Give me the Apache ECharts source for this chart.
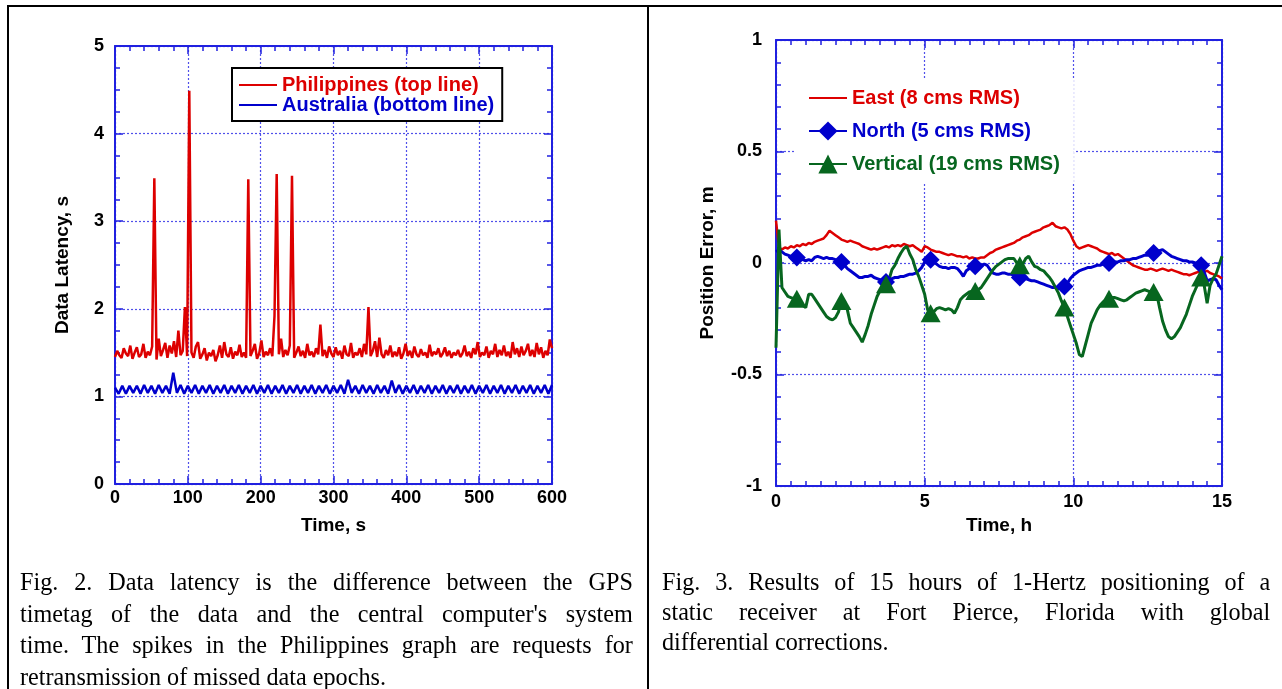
<!DOCTYPE html>
<html><head><meta charset="utf-8">
<script src="https://cdn.jsdelivr.net/npm/echarts@6/dist/echarts.min.js"></script>
<style>
html,body{margin:0;padding:0;background:#fff;width:1282px;height:689px;overflow:hidden;}
#chart{position:absolute;left:0;top:0;width:1282px;height:689px;}
.rule{position:absolute;background:#000;}
.cap{position:absolute;font-family:"Liberation Serif","Times New Roman",serif;font-size:26px;color:#000;transform:scaleX(0.93);transform-origin:0 0;}
.cap div{height:31.5px;line-height:31.5px;text-align:justify;text-align-last:justify;white-space:nowrap;}
.cap div.last{text-align-last:left;}
#capR div{height:30px;line-height:30px;}
</style></head>
<body>
<div id="chart"></div>
<div class="rule" style="left:7px;top:5px;width:1275px;height:2px;"></div>
<div class="rule" style="left:7px;top:5px;width:2px;height:684px;"></div>
<div class="rule" style="left:647px;top:5px;width:2px;height:684px;"></div>
<div class="cap" id="capL" style="left:20px;top:566px;width:659px;"></div>
<div class="cap" id="capR" style="left:662px;top:567px;width:654px;"></div>
<script>
// ---------- Fig. 2 data (latency, s) ----------
const latXTicks = [0, 100, 200, 300, 400, 500, 600];
const latYTicks = [0, 1, 2, 3, 4, 5];
const PH_STEP = 3;   // seconds between Philippines samples
const phV = [
1.45,1.52,1.47,1.44,1.55,1.49,1.46,1.58,1.43,1.50,
1.56,1.45,1.48,1.60,1.44,1.51,1.47,1.57,3.49,1.42,
1.66,1.46,1.53,1.61,1.44,1.58,1.49,1.63,1.45,1.75,
1.47,1.52,2.02,1.46,4.49,1.50,1.44,1.57,1.62,1.43,
1.48,1.55,1.41,1.50,1.46,1.53,1.40,1.47,1.58,1.44,
1.62,1.48,1.45,1.56,1.43,1.51,1.47,1.59,1.45,1.50,
1.44,3.48,1.46,1.52,1.60,1.43,1.49,1.64,1.45,1.51,
1.47,1.55,1.46,1.92,3.54,1.48,1.66,1.45,1.53,1.47,
1.58,3.52,1.44,1.50,1.57,1.46,1.52,1.44,1.60,1.47,
1.51,1.45,1.55,1.48,1.82,1.46,1.53,1.44,1.57,1.49,
1.45,1.56,1.47,1.52,1.43,1.58,1.48,1.46,1.61,1.44,
1.50,1.47,1.55,1.45,1.60,1.48,2.02,1.46,1.52,1.63,
1.45,1.67,1.48,1.44,1.53,1.47,1.58,1.45,1.51,1.46,
1.56,1.43,1.49,1.60,1.46,1.52,1.44,1.57,1.48,1.45,
1.54,1.47,1.50,1.44,1.59,1.46,1.51,1.48,1.55,1.45,
1.49,1.56,1.46,1.52,1.44,1.50,1.47,1.53,1.45,1.49,
1.58,1.46,1.51,1.44,1.55,1.48,1.62,1.45,1.50,1.47,
1.57,1.44,1.52,1.48,1.60,1.45,1.53,1.47,1.58,1.46,
1.51,1.44,1.62,1.48,1.55,1.45,1.57,1.47,1.52,1.60,
1.46,1.53,1.45,1.61,1.48,1.56,1.44,1.52,1.47,1.65,
1.55];
const AU_STEP = 5;   // seconds between Australia samples
const auV = [
1.10,1.03,1.12,1.03,1.12,1.04,1.12,1.03,1.13,1.04,
1.12,1.03,1.13,1.04,1.12,1.03,1.27,1.04,1.13,1.03,
1.12,1.04,1.13,1.03,1.12,1.04,1.13,1.03,1.12,1.04,
1.13,1.03,1.12,1.04,1.13,1.03,1.12,1.04,1.13,1.03,
1.12,1.04,1.13,1.03,1.12,1.04,1.13,1.03,1.12,1.04,
1.13,1.03,1.12,1.04,1.13,1.03,1.12,1.04,1.13,1.03,
1.12,1.04,1.13,1.03,1.19,1.04,1.12,1.03,1.13,1.04,
1.12,1.03,1.13,1.04,1.12,1.03,1.18,1.04,1.13,1.03,
1.12,1.04,1.13,1.03,1.12,1.04,1.13,1.03,1.12,1.04,
1.13,1.03,1.12,1.04,1.13,1.03,1.12,1.04,1.13,1.03,
1.12,1.04,1.13,1.03,1.12,1.04,1.13,1.03,1.12,1.04,
1.13,1.03,1.12,1.04,1.13,1.03,1.12,1.04,1.13,1.03,
1.13];

// ---------- Fig. 3 data (position error, m) ----------
const posXTicks = [0, 5, 10, 15];
const posYTicks = [-1, -0.5, 0, 0.5, 1];
const POS_STEP = 0.1; // hours between samples
const eastV = [
0.19,0.07,0.06,0.07,0.065,0.075,0.07,0.08,0.075,0.085,
0.08,0.09,0.085,0.095,0.10,0.105,0.11,0.125,0.145,0.135,
0.125,0.115,0.105,0.10,0.095,0.10,0.095,0.09,0.085,0.075,
0.07,0.065,0.06,0.065,0.06,0.065,0.07,0.075,0.07,0.08,
0.075,0.08,0.075,0.085,0.08,0.075,0.08,0.07,0.06,0.05,
0.075,0.07,0.06,0.055,0.05,0.05,0.045,0.04,0.035,0.04,
0.035,0.03,0.03,0.025,0.03,0.02,0.025,0.02,0.02,0.025,
0.025,0.035,0.045,0.05,0.06,0.065,0.07,0.075,0.08,0.085,
0.09,0.10,0.105,0.115,0.12,0.125,0.135,0.14,0.145,0.15,
0.16,0.165,0.17,0.18,0.165,0.16,0.155,0.16,0.15,0.13,
0.10,0.075,0.065,0.07,0.075,0.08,0.075,0.07,0.065,0.055,
0.05,0.045,0.04,0.045,0.035,0.04,0.03,0.02,0.01,0.0,
-0.01,-0.015,-0.02,-0.025,-0.03,-0.03,-0.025,-0.03,-0.035,-0.03,
-0.025,-0.03,-0.035,-0.03,-0.035,-0.04,-0.045,-0.05,-0.05,-0.055,
-0.05,-0.045,-0.04,-0.045,-0.04,-0.035,-0.045,-0.05,-0.055,-0.06,
-0.07];
const northV = [
0.05,0.06,0.05,0.04,0.035,0.03,0.025,0.025,0.02,0.015,
0.01,0.015,0.01,0.025,0.03,0.025,0.02,0.025,0.02,0.02,
0.015,0.01,0.005,-0.01,-0.025,-0.035,-0.045,-0.055,-0.065,-0.065,
-0.06,-0.06,-0.055,-0.065,-0.07,-0.075,-0.08,-0.085,-0.08,-0.07,
-0.065,-0.065,-0.06,-0.06,-0.055,-0.05,-0.05,-0.045,-0.035,-0.02,
0.005,0.01,0.015,0.005,-0.005,-0.015,-0.02,-0.02,-0.025,-0.02,
-0.02,-0.025,-0.04,-0.06,-0.035,-0.025,-0.02,-0.015,-0.01,-0.01,
-0.005,-0.01,-0.03,-0.045,-0.05,-0.05,-0.045,-0.045,-0.05,-0.05,
-0.055,-0.06,-0.065,-0.07,-0.07,-0.075,-0.08,-0.08,-0.085,-0.09,
-0.095,-0.1,-0.105,-0.11,-0.11,-0.115,-0.11,-0.105,-0.09,-0.07,
-0.055,-0.045,-0.035,-0.03,-0.025,-0.02,-0.02,-0.015,-0.01,-0.01,
-0.005,-0.005,0.0,0.0,0.005,0.005,0.01,0.01,0.015,0.015,
0.02,0.02,0.025,0.03,0.035,0.035,0.04,0.045,0.05,0.055,
0.06,0.05,0.04,0.03,0.025,0.02,0.015,0.01,0.01,0.005,
0.005,0.0,0.0,-0.01,-0.04,-0.08,-0.075,-0.07,-0.075,-0.1,
-0.12];
const vertV = [
-0.38,0.15,-0.11,-0.13,-0.15,-0.155,-0.16,-0.16,-0.17,-0.19,
-0.2,-0.14,-0.14,-0.16,-0.18,-0.2,-0.22,-0.24,-0.25,-0.255,
-0.245,-0.22,-0.17,-0.17,-0.21,-0.27,-0.29,-0.31,-0.33,-0.355,
-0.32,-0.28,-0.23,-0.19,-0.15,-0.125,-0.11,-0.095,-0.075,-0.03,
-0.01,0.02,0.045,0.065,0.075,0.04,0.015,-0.03,-0.06,-0.1,
-0.14,-0.21,-0.225,-0.22,-0.205,-0.2,-0.205,-0.21,-0.205,-0.21,
-0.225,-0.2,-0.165,-0.15,-0.14,-0.13,-0.127,-0.125,-0.12,-0.11,
-0.09,-0.07,-0.05,-0.03,-0.015,-0.005,0.005,0.015,0.02,0.02,
0.02,0.0,-0.01,-0.005,0.02,0.03,0.005,-0.015,-0.02,-0.03,
-0.035,-0.05,-0.065,-0.085,-0.11,-0.135,-0.17,-0.2,-0.24,-0.28,
-0.32,-0.36,-0.41,-0.42,-0.37,-0.32,-0.27,-0.24,-0.21,-0.19,
-0.175,-0.165,-0.16,-0.155,-0.155,-0.16,-0.165,-0.17,-0.165,-0.155,
-0.145,-0.135,-0.13,-0.125,-0.12,-0.125,-0.13,-0.13,-0.135,-0.2,
-0.26,-0.3,-0.33,-0.34,-0.33,-0.31,-0.29,-0.26,-0.23,-0.19,
-0.15,-0.12,-0.09,-0.065,-0.1,-0.18,-0.1,-0.07,-0.05,-0.01,
0.03];
const markerIdx = [7, 22, 37, 52, 67, 82, 97, 112, 127, 143];

const capLeft = [
 "Fig. 2. Data latency is the difference between the GPS",
 "timetag of the data and the central computer's system",
 "time. The spikes in the Philippines graph are requests for",
 "retransmission of missed data epochs."];
const capRight = [
 "Fig. 3. Results of 15 hours of 1-Hertz positioning of a",
 "static receiver at Fort Pierce, Florida with global",
 "differential corrections."];

function fillCap(id, lines){
  const el = document.getElementById(id);
  lines.forEach((t,i)=>{ const d=document.createElement('div'); d.textContent=t; if(i===lines.length-1) d.className='last'; el.appendChild(d); });
}
fillCap('capL', capLeft); fillCap('capR', capRight);

const RED = '#dd0000', BLUE = '#0000cc', GREEN = '#07661f';
const AX = '#2020e0', GRIDC = '#5050ea';
const FONT = 'Liberation Sans, Arial, sans-serif';

const toPairs = (arr, step) => arr.map((v, i) => [+(i * step).toFixed(3), v]);

function xAxisDef(grid, pos, min, max, interval, minorSplit, primary, name, nameGap, labelMargin){
  return {
    gridIndex: grid, type: 'value', position: pos, min, max, interval,
    axisLine: {show: true, onZero: false, lineStyle: {color: AX, width: 2}},
    axisTick: {show: true, inside: true, length: 8, lineStyle: {color: AX, width: 1.5}},
    minorTick: {show: true, splitNumber: minorSplit, length: 5, lineStyle: {color: AX, width: 1.5}},
    splitLine: {show: primary, lineStyle: {color: GRIDC, width: 1.2, type: [2, 2]}},
    axisLabel: {show: primary, margin: labelMargin, color: '#000', fontFamily: FONT, fontWeight: 'bold', fontSize: 18},
    name: primary ? name : '', nameLocation: 'middle', nameGap: nameGap,
    nameTextStyle: {color: '#000', fontFamily: FONT, fontWeight: 'bold', fontSize: 19}
  };
}
function yAxisDef(grid, pos, min, max, interval, minorSplit, primary, name, nameGap, labelMargin){
  return {
    gridIndex: grid, type: 'value', position: pos, min, max, interval,
    axisLine: {show: true, onZero: false, lineStyle: {color: AX, width: 2}},
    axisTick: {show: true, inside: true, length: 8, lineStyle: {color: AX, width: 1.5}},
    minorTick: {show: true, splitNumber: minorSplit, length: 5, lineStyle: {color: AX, width: 1.5}},
    splitLine: {show: primary, lineStyle: {color: GRIDC, width: 1.2, type: [2, 2]}},
    axisLabel: {show: primary, margin: labelMargin, color: '#000', fontFamily: FONT, fontWeight: 'bold', fontSize: 18},
    name: primary ? name : '', nameLocation: 'middle', nameGap: nameGap, nameRotate: 90,
    nameTextStyle: {color: '#000', fontFamily: FONT, fontWeight: 'bold', fontSize: 19}
  };
}

const chart = echarts.init(document.getElementById('chart'), null, {renderer: 'canvas'});
const markSize = (sz) => (val, p) => markerIdx.indexOf(p.dataIndex) >= 0 ? sz : 0;
const noMark = {opacity: 0};

chart.setOption({
  animation: false,
  backgroundColor: 'transparent',
  grid: [
    {left: 115, top: 46, width: 437, height: 438},
    {left: 776, top: 40, width: 446, height: 446}
  ],
  xAxis: [
    xAxisDef(0, 'bottom', latXTicks[0], latXTicks[latXTicks.length-1], 100, 5, true, 'Time, s', 32, 5),
    xAxisDef(0, 'top', latXTicks[0], latXTicks[latXTicks.length-1], 100, 5, false),
    xAxisDef(1, 'bottom', posXTicks[0], posXTicks[posXTicks.length-1], 5, 10, true, 'Time, h', 29, 7),
    xAxisDef(1, 'top', posXTicks[0], posXTicks[posXTicks.length-1], 5, 10, false)
  ],
  yAxis: [
    yAxisDef(0, 'left', latYTicks[0], latYTicks[latYTicks.length-1], 1, 4, true, 'Data Latency, s', 43, 11),
    yAxisDef(0, 'right', latYTicks[0], latYTicks[latYTicks.length-1], 1, 4, false),
    yAxisDef(1, 'left', posYTicks[0], posYTicks[posYTicks.length-1], 0.5, 5, true, 'Position Error, m', 59, 14),
    yAxisDef(1, 'right', posYTicks[0], posYTicks[posYTicks.length-1], 0.5, 5, false)
  ],
  legend: [
    {
      data: [
        {name: 'Philippines (top line)', textStyle: {color: RED}, itemStyle: noMark},
        {name: 'Australia (bottom line)', textStyle: {color: BLUE}, itemStyle: noMark}
      ],
      left: 232, top: 68, orient: 'vertical', selectedMode: false,
      itemWidth: 38, itemHeight: 14, itemGap: 0,
      padding: [7, 8, 6, 6], borderColor: '#000', borderWidth: 2, backgroundColor: '#fff',
      textStyle: {fontFamily: FONT, fontWeight: 'bold', fontSize: 20, lineHeight: 18}
    },
    {
      data: [
        {name: 'East (8 cms RMS)', textStyle: {color: RED}, itemStyle: noMark},
        {name: 'North (5 cms RMS)', textStyle: {color: BLUE}},
        {name: 'Vertical (19 cms RMS)', textStyle: {color: GREEN}}
      ],
      left: 794, top: 80, orient: 'vertical', selectedMode: false,
      itemWidth: 38, itemHeight: 24, itemGap: 13,
      padding: [8, 14, 8, 14], backgroundColor: '#fff', borderWidth: 0,
      textStyle: {fontFamily: FONT, fontWeight: 'bold', fontSize: 20}
    }
  ],
  series: [
    {type: 'line', name: 'Philippines (top line)', xAxisIndex: 0, yAxisIndex: 0,
     data: toPairs(phV, PH_STEP), symbol: 'none', silent: true,
     lineStyle: {color: RED, width: 2.5}, itemStyle: {color: RED}},
    {type: 'line', name: 'Australia (bottom line)', xAxisIndex: 0, yAxisIndex: 0,
     data: toPairs(auV, AU_STEP), symbol: 'none', silent: true,
     lineStyle: {color: BLUE, width: 2.5}, itemStyle: {color: BLUE}},
    {type: 'line', name: 'East (8 cms RMS)', xAxisIndex: 2, yAxisIndex: 2,
     data: toPairs(eastV, POS_STEP), symbol: 'none', silent: true,
     lineStyle: {color: RED, width: 2.5}, itemStyle: {color: RED}},
    {type: 'line', name: 'North (5 cms RMS)', xAxisIndex: 2, yAxisIndex: 2,
     data: toPairs(northV, POS_STEP), symbol: 'diamond', symbolSize: markSize(18), showAllSymbol: true, silent: true,
     lineStyle: {color: BLUE, width: 3}, itemStyle: {color: BLUE}},
    {type: 'line', name: 'Vertical (19 cms RMS)', xAxisIndex: 2, yAxisIndex: 2,
     data: toPairs(vertV, POS_STEP), symbol: 'triangle', symbolSize: markSize([20, 18]), showAllSymbol: true, silent: true,
     lineStyle: {color: GREEN, width: 3}, itemStyle: {color: GREEN}}
  ]
});
</script>
</body></html>
